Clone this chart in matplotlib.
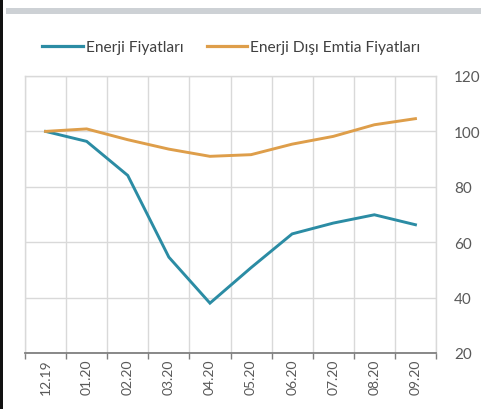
import matplotlib
matplotlib.use("Agg")
import matplotlib.pyplot as plt
from matplotlib.lines import Line2D
from matplotlib.patches import Rectangle

months = ["12.19", "01.20", "02.20", "03.20", "04.20", "05.20", "06.20", "07.20", "08.20", "09.20"]
energy = [100, 96.4, 84.1, 54.6, 38.0, 50.8, 63.0, 66.9, 69.9, 66.3]
non_energy = [100, 100.9, 97.0, 93.6, 91.0, 91.6, 95.4, 98.2, 102.4, 104.6]
y_ticks = [20, 40, 60, 80, 100, 120]

energy_color = "#2b8ca4"
non_energy_color = "#de9e4a"
grid_color = "#d9d9d9"
text_color = "#595959"
font = ["Lato", "DejaVu Sans"]

W, H = 497, 410
fig = plt.figure(figsize=(W / 100, H / 100), dpi=100)
fig.patch.set_facecolor("white")

# header bar and left frame edge
fig.patches.append(Rectangle((6 / W, 1 - 15 / H), 475 / W, 6 / H, transform=fig.transFigure,
                             facecolor="#cdd1d5", edgecolor="none"))
fig.patches.append(Rectangle((0, 0), 2.5 / W, 1, transform=fig.transFigure,
                             facecolor="#111111", edgecolor="none"))

ax = fig.add_axes([25 / W, 1 - 354 / H, 411 / W, 277 / H])
x = list(range(len(months)))
ax.plot(x, energy, color=energy_color, lw=2.1, solid_joinstyle="miter")
ax.plot(x, non_energy, color=non_energy_color, lw=2.1, solid_joinstyle="miter")

ax.set_xlim(-0.5, len(months) - 0.5)
ax.set_ylim(20, 120)

bounds = [i - 0.5 for i in range(len(months) + 1)]
ax.set_xticks(bounds)
ax.set_xticklabels([""] * len(bounds))
ax.tick_params(axis="x", which="major", direction="out", length=4, width=1, color="#7f7f7f")
ax.set_xticks(x, minor=True)
ax.set_xticklabels(months, minor=True, rotation=90, fontsize=10, color=text_color, family=font)
ax.tick_params(axis="x", which="minor", length=0, pad=4)

ax.yaxis.tick_right()
ax.set_yticks(y_ticks)
ax.set_yticklabels([str(v) for v in y_ticks], fontsize=11, color=text_color, family=font)
ax.tick_params(axis="y", length=0, pad=13)

for b in bounds:
    ax.axvline(b, color=grid_color, lw=1, zorder=0)
for v in y_ticks:
    ax.axhline(v, color=grid_color, lw=1, zorder=0)

for side in ["left", "right", "top"]:
    ax.spines[side].set_color(grid_color)
    ax.spines[side].set_linewidth(1)
ax.spines["bottom"].set_color("#7f7f7f")
ax.spines["bottom"].set_linewidth(1.3)
ax.spines["bottom"].set_zorder(3)

handles = [Line2D([], [], color=energy_color, lw=2.3),
           Line2D([], [], color=non_energy_color, lw=2.3)]
fig.legend(handles, ["Enerji Fiyatları", "Enerji Dışı Emtia Fiyatları"],
           loc="center left", bbox_to_anchor=(36 / W, 1 - 48 / H), ncol=2, frameon=False,
           prop={"family": font, "size": 11.2}, labelcolor="#404040",
           handlelength=2.6, handletextpad=0.2, columnspacing=1.5, borderaxespad=0)

fig.savefig("out.png", dpi=100, facecolor="white")
